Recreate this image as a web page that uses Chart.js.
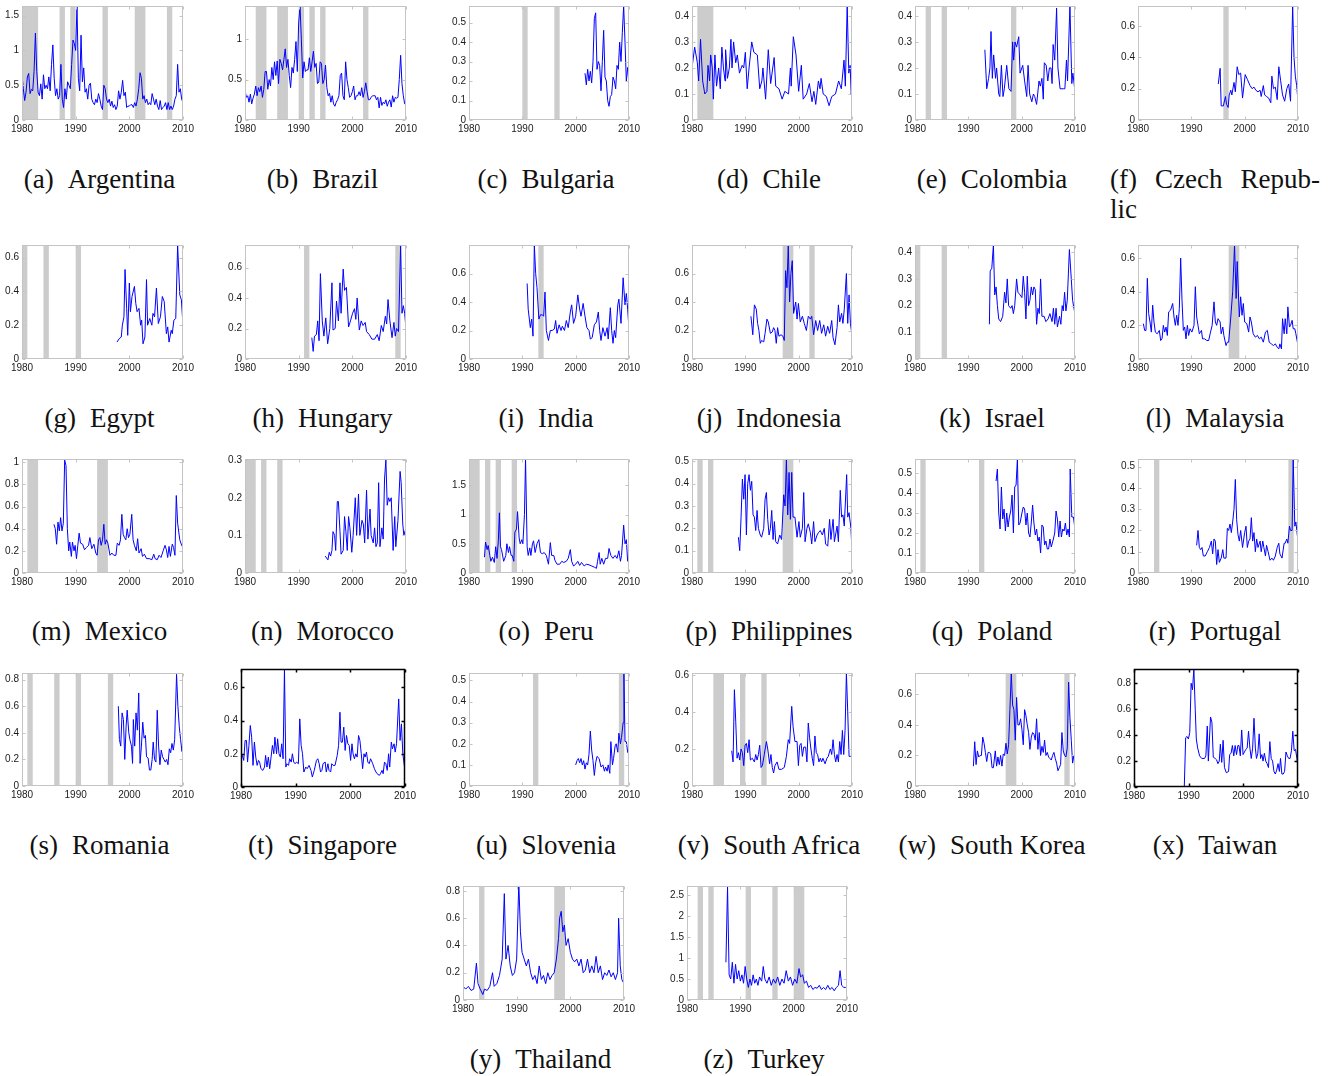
<!DOCTYPE html>
<html><head><meta charset="utf-8">
<script src="https://cdn.jsdelivr.net/npm/chart.js@4.4.1/dist/chart.umd.min.js"></script>
<style>
html,body{margin:0;padding:0;background:#fff;}
body{width:1336px;height:1076px;position:relative;overflow:hidden;}
canvas{position:absolute;}
.cap{position:absolute;font-family:'Liberation Serif','Times New Roman',serif;font-size:27px;line-height:30px;color:#111;text-align:center;white-space:nowrap;width:210px;}
.cap .g{margin-left:14px;}
.cap .row{display:flex;justify-content:space-between;}
.cap .l2{text-align:left;}
</style></head><body>
<script>
// ---------------- DATA ----------------
const xTicks = [1980, 1990, 2000, 2010];
const letters = 'abcdefghijklmnopqrstuvwxyz'.split('');
const countries = ['Argentina','Brazil','Bulgaria','Chile','Colombia','Czech Republic','Egypt','Hungary','India','Indonesia','Israel','Malaysia','Mexico','Morocco','Peru','Philippines','Poland','Portugal','Romania','Singapore','Slovenia','South Africa','South Korea','Taiwan','Thailand','Turkey'];

// quarterly values 1980..2010
const argentina = [0.65,0.45,0.28,0.4, 0.62,0.67,0.38,0.44, 0.42,0.7,1.25,0.7, 0.4,0.35,0.52,0.3, 0.65,0.45,0.5,0.45, 0.62,0.42,0.8,1.08, 0.6,0.35,0.45,0.3, 0.35,0.8,0.3,0.18, 0.45,0.3,0.55,0.5, 0.45,0.8,1.15,1.1, 1.0,1.64,0.6,0.42, 1.22,0.55,0.75,0.4, 0.45,0.3,0.5,0.53, 0.3,0.25,0.22,0.3, 0.25,0.38,0.3,0.2, 0.15,0.5,0.45,0.3, 0.25,0.3,0.2,0.27, 0.18,0.22,0.15,0.2, 0.42,0.3,0.4,0.57, 0.35,0.4,0.18,0.2, 0.2,0.22,0.22,0.18, 0.25,0.2,0.3,0.45, 0.68,0.6,0.3,0.35, 0.25,0.3,0.22,0.25, 0.22,0.38,0.3,0.22, 0.3,0.2,0.15,0.28, 0.15,0.18,0.2,0.25, 0.15,0.25,0.15,0.2, 0.15,0.2,0.3,0.35, 0.8,0.4,0.45,0.3, 0.25];
const brazil = [0.37,0.28,0.3,0.22, 0.32,0.2,0.27,0.32, 0.42,0.3,0.4,0.35, 0.42,0.28,0.38,0.6, 0.6,0.38,0.5,0.42, 0.65,0.5,0.72,0.55, 0.73,0.45,0.75,0.7, 0.62,0.75,0.88,0.65, 0.75,0.55,0.4,0.65, 0.58,0.75,0.97,0.6, 1.2,1.41,1.0,0.52, 0.72,0.6,0.62,0.62, 0.77,0.6,0.72,0.85, 0.65,0.7,0.45,0.47, 0.72,0.7,0.45,0.5, 0.68,0.4,0.3,0.33, 0.22,0.3,0.2,0.17, 0.22,0.25,0.3,0.55, 0.58,0.3,0.25,0.72, 0.5,0.4,0.28,0.3, 0.35,0.42,0.25,0.3, 0.3,0.35,0.3,0.4, 0.28,0.35,0.46,0.35, 0.25,0.25,0.28,0.3, 0.3,0.3,0.25,0.28, 0.15,0.28,0.18,0.22, 0.2,0.25,0.17,0.22, 0.25,0.16,0.3,0.22, 0.28,0.27,0.28,0.5, 0.8,0.45,0.3,0.2, 0.2];

// [year, value] pairs
const bulgaria = [[2001.75,0.24],[2002,0.18],[2002.25,0.26],[2002.5,0.2],[2002.75,0.25],[2003,0.19],[2003.25,0.3],[2003.5,0.52],[2003.75,0.55],[2004,0.26],[2004.25,0.3],[2004.5,0.28],[2004.75,0.15],[2005,0.3],[2005.25,0.46],[2005.5,0.22],[2005.75,0.2],[2006,0.1],[2006.25,0.07],[2006.5,0.12],[2006.75,0.13],[2007,0.22],[2007.25,0.2],[2007.5,0.16],[2007.75,0.28],[2008,0.26],[2008.25,0.4],[2008.5,0.3],[2008.75,0.45],[2009,0.585],[2009.25,0.4],[2009.5,0.2],[2009.75,0.27],[2010,0.19]];
const chile = [[1980,0.2],[1980.5,0.28],[1981,0.22],[1981.25,0.15],[1981.6,0.31],[1982,0.15],[1982.4,0.1],[1982.8,0.11],[1983,0.21],[1983.3,0.15],[1983.5,0.25],[1983.8,0.2],[1984,0.08],[1984.3,0.25],[1984.6,0.13],[1985,0.2],[1985.3,0.12],[1985.6,0.28],[1985.9,0.2],[1986.2,0.15],[1986.3,0.27],[1986.65,0.16],[1987,0.2],[1987.3,0.31],[1987.5,0.2],[1987.8,0.3],[1988.2,0.22],[1988.5,0.25],[1988.9,0.18],[1989.4,0.21],[1989.7,0.2],[1990,0.26],[1990.35,0.12],[1990.7,0.2],[1991.2,0.3],[1991.6,0.26],[1992.25,0.25],[1992.7,0.12],[1993.1,0.15],[1993.3,0.2],[1993.8,0.08],[1994.3,0.27],[1994.75,0.14],[1995.4,0.24],[1995.7,0.13],[1996.3,0.12],[1996.9,0.08],[1997.4,0.11],[1998.1,0.1],[1998.45,0.2],[1998.6,0.13],[1999,0.32],[1999.5,0.25],[2000,0.11],[2000.5,0.21],[2000.85,0.08],[2001.5,0.1],[2002,0.14],[2002.5,0.07],[2002.85,0.11],[2003.2,0.06],[2003.7,0.15],[2004,0.12],[2004.2,0.16],[2004.6,0.1],[2005.2,0.09],[2005.7,0.055],[2006.2,0.09],[2006.9,0.1],[2007.5,0.15],[2008,0.12],[2008.5,0.23],[2008.75,0.13],[2009.1,0.44],[2009.4,0.18],[2009.65,0.21],[2009.85,0.1],[2010,0.12]];
const colombia = [[1993.1,0.27],[1993.45,0.12],[1993.8,0.16],[1994.05,0.2],[1994.25,0.34],[1994.5,0.16],[1994.75,0.25],[1995.1,0.16],[1995.3,0.2],[1995.7,0.1],[1995.9,0.09],[1996.2,0.21],[1996.5,0.09],[1996.75,0.12],[1997.2,0.21],[1997.6,0.12],[1998,0.11],[1998.3,0.3],[1998.5,0.23],[1998.75,0.3],[1999.05,0.28],[1999.45,0.32],[1999.7,0.18],[2000.2,0.21],[2000.55,0.15],[2000.95,0.09],[2001.2,0.21],[2001.5,0.1],[2001.9,0.07],[2002.2,0.1],[2002.45,0.09],[2002.8,0.06],[2003.25,0.15],[2003.5,0.13],[2003.8,0.16],[2004.05,0.08],[2004.25,0.22],[2004.6,0.21],[2004.9,0.15],[2005.2,0.2],[2005.5,0.2],[2005.7,0.14],[2005.9,0.29],[2006.2,0.23],[2006.55,0.43],[2006.8,0.2],[2007.2,0.12],[2007.8,0.12],[2008.1,0.12],[2008.4,0.23],[2008.6,0.15],[2009.05,0.44],[2009.4,0.14],[2009.6,0.18],[2010,0.11]];
const czech = [[1995.05,0.23],[1995.4,0.33],[1995.6,0.09],[1996,0.09],[1996.4,0.15],[1996.6,0.1],[1996.9,0.08],[1997.1,0.16],[1997.4,0.19],[1997.6,0.16],[1998,0.24],[1998.25,0.18],[1998.6,0.34],[1998.9,0.29],[1999.25,0.3],[1999.6,0.14],[2000.1,0.29],[2000.5,0.26],[2001,0.22],[2001.4,0.2],[2001.75,0.21],[2002.1,0.19],[2002.5,0.18],[2002.9,0.19],[2003.1,0.15],[2003.5,0.22],[2003.75,0.16],[2004.1,0.15],[2004.5,0.14],[2004.9,0.11],[2005.1,0.28],[2005.4,0.2],[2005.75,0.21],[2006.1,0.13],[2006.4,0.34],[2006.75,0.25],[2007.1,0.16],[2007.5,0.12],[2007.9,0.2],[2008.25,0.23],[2008.6,0.12],[2009,0.728],[2009.25,0.4],[2009.5,0.28],[2009.75,0.22],[2010,0.12]];
const egypt = [[1997.7,0.1],[1998.1,0.12],[1998.5,0.13],[1998.7,0.2],[1999,0.25],[1999.2,0.53],[1999.5,0.3],[1999.7,0.14],[2000,0.45],[2000.2,0.28],[2000.5,0.37],[2000.95,0.43],[2001.2,0.33],[2001.45,0.28],[2001.8,0.3],[2002.1,0.2],[2002.3,0.23],[2002.55,0.09],[2002.9,0.13],[2003.2,0.47],[2003.4,0.2],[2003.8,0.24],[2004.2,0.2],[2004.4,0.27],[2004.7,0.25],[2005.05,0.42],[2005.4,0.21],[2005.8,0.25],[2006.15,0.37],[2006.5,0.34],[2006.9,0.15],[2007.15,0.19],[2007.4,0.1],[2007.8,0.17],[2008,0.15],[2008.3,0.23],[2008.65,0.24],[2009,0.675],[2009.4,0.38],[2009.7,0.35],[2010,0.2]];
const hungary = [[1992.45,0.14],[1992.7,0.05],[1992.95,0.15],[1993.3,0.16],[1993.55,0.25],[1993.8,0.12],[1994.05,0.56],[1994.4,0.25],[1994.7,0.15],[1995.05,0.27],[1995.4,0.1],[1995.8,0.2],[1996.2,0.5],[1996.4,0.19],[1996.8,0.2],[1997.05,0.38],[1997.4,0.25],[1997.7,0.5],[1997.9,0.3],[1998.3,0.59],[1998.55,0.45],[1998.9,0.47],[1999.3,0.21],[1999.65,0.25],[2000.05,0.3],[2000.4,0.33],[2000.65,0.26],[2000.9,0.4],[2001.3,0.19],[2001.65,0.25],[2002,0.22],[2002.4,0.24],[2002.65,0.18],[2003.15,0.16],[2003.65,0.13],[2004.15,0.13],[2004.65,0.16],[2005,0.12],[2005.4,0.22],[2005.75,0.18],[2006.15,0.28],[2006.4,0.23],[2006.65,0.39],[2007,0.25],[2007.4,0.14],[2007.75,0.24],[2008,0.15],[2008.25,0.2],[2008.6,0.18],[2009,0.748],[2009.25,0.3],[2009.5,0.35],[2009.75,0.3],[2010,0.2]];
const india = [[1990.9,0.53],[1991.1,0.35],[1991.5,0.22],[1991.75,0.28],[1992,0.16],[1992.25,0.8],[1992.5,0.6],[1992.75,0.5],[1993.1,0.28],[1993.4,0.31],[1993.75,0.31],[1994,0.3],[1994.25,0.47],[1994.5,0.2],[1994.9,0.13],[1995.25,0.2],[1995.6,0.2],[1996,0.21],[1996.25,0.27],[1996.5,0.18],[1996.9,0.24],[1997.25,0.2],[1997.5,0.23],[1997.9,0.2],[1998.25,0.27],[1998.6,0.22],[1999,0.33],[1999.25,0.38],[1999.6,0.25],[2000,0.3],[2000.4,0.45],[2000.75,0.35],[2001,0.3],[2001.4,0.39],[2001.75,0.3],[2002.1,0.22],[2002.5,0.2],[2002.75,0.14],[2003.1,0.15],[2003.5,0.24],[2003.9,0.26],[2004.25,0.33],[2004.5,0.2],[2004.75,0.13],[2005.1,0.22],[2005.5,0.16],[2005.9,0.22],[2006.1,0.14],[2006.5,0.36],[2006.75,0.2],[2007,0.11],[2007.25,0.2],[2007.5,0.15],[2007.9,0.38],[2008.1,0.42],[2008.5,0.25],[2008.9,0.57],[2009.25,0.38],[2009.5,0.46],[2009.75,0.35],[2010,0.21]];
const indonesia = [[1991.05,0.3],[1991.4,0.17],[1991.7,0.38],[1992.05,0.35],[1992.3,0.25],[1992.55,0.2],[1992.8,0.11],[1993.05,0.13],[1993.45,0.12],[1993.7,0.18],[1994.05,0.28],[1994.3,0.26],[1994.7,0.18],[1995.05,0.19],[1995.3,0.22],[1995.55,0.2],[1995.8,0.11],[1996.05,0.22],[1996.3,0.16],[1996.7,0.17],[1997.05,0.16],[1997.3,0.13],[1997.55,0.62],[1997.8,0.5],[1998.05,0.8],[1998.3,0.4],[1998.55,0.6],[1998.8,0.69],[1999.05,0.32],[1999.45,0.4],[1999.7,0.28],[1999.95,0.39],[2000.3,0.26],[2000.7,0.3],[2001.05,0.25],[2001.45,0.2],[2001.8,0.3],[2002.2,0.28],[2002.45,0.3],[2002.8,0.17],[2003.2,0.27],[2003.55,0.2],[2003.95,0.27],[2004.3,0.18],[2004.7,0.24],[2005.05,0.16],[2005.45,0.23],[2005.8,0.18],[2006.2,0.27],[2006.45,0.15],[2006.8,0.1],[2007.2,0.22],[2007.45,0.38],[2007.7,0.26],[2008.05,0.32],[2008.3,0.25],[2008.55,0.35],[2008.95,0.6],[2009.2,0.25],[2009.45,0.45],[2009.7,0.25],[2010,0.17]];
const israel = [[1993.95,0.13],[1994.1,0.33],[1994.4,0.34],[1994.7,0.427],[1994.95,0.24],[1995.2,0.27],[1995.45,0.2],[1995.7,0.15],[1996.05,0.14],[1996.45,0.16],[1996.8,0.25],[1997.05,0.21],[1997.3,0.3],[1997.55,0.2],[1997.95,0.19],[1998.2,0.2],[1998.45,0.17],[1998.7,0.2],[1999.05,0.3],[1999.3,0.25],[1999.7,0.24],[2000.05,0.23],[2000.3,0.31],[2000.55,0.25],[2000.8,0.15],[2001.05,0.31],[2001.3,0.2],[2001.55,0.22],[2001.8,0.27],[2002.05,0.24],[2002.3,0.27],[2002.55,0.26],[2002.8,0.13],[2003.05,0.19],[2003.3,0.17],[2003.55,0.3],[2003.8,0.16],[2004.2,0.16],[2004.55,0.14],[2004.95,0.15],[2005.3,0.17],[2005.7,0.14],[2005.95,0.19],[2006.2,0.13],[2006.45,0.19],[2006.7,0.12],[2007.1,0.16],[2007.35,0.13],[2007.6,0.2],[2007.8,0.18],[2008.05,0.25],[2008.3,0.18],[2008.55,0.22],[2008.95,0.41],[2009.3,0.3],[2009.55,0.22],[2009.8,0.19],[2010,0.17]];
const malaysia = [[1981,0.21],[1981.25,0.17],[1981.5,0.17],[1981.75,0.48],[1982,0.27],[1982.25,0.22],[1982.5,0.16],[1982.75,0.32],[1983,0.22],[1983.25,0.16],[1983.6,0.15],[1984,0.17],[1984.25,0.11],[1984.5,0.12],[1984.75,0.2],[1985,0.16],[1985.25,0.19],[1985.5,0.14],[1985.75,0.28],[1986.1,0.29],[1986.5,0.33],[1986.75,0.25],[1987,0.2],[1987.25,0.26],[1987.5,0.2],[1987.75,0.3],[1988,0.6],[1988.25,0.35],[1988.5,0.17],[1988.75,0.19],[1989,0.12],[1989.25,0.2],[1989.5,0.14],[1989.75,0.18],[1990.1,0.16],[1990.5,0.2],[1990.75,0.43],[1991,0.25],[1991.25,0.2],[1991.5,0.15],[1991.9,0.17],[1992.1,0.12],[1992.5,0.12],[1992.9,0.11],[1993.25,0.11],[1993.6,0.16],[1993.9,0.2],[1994.25,0.34],[1994.5,0.22],[1994.75,0.2],[1995,0.24],[1995.4,0.22],[1995.6,0.15],[1995.9,0.19],[1996.1,0.14],[1996.5,0.08],[1996.75,0.1],[1997,0.1],[1997.4,0.25],[1997.75,0.4],[1998.1,0.678],[1998.4,0.36],[1998.6,0.58],[1999,0.25],[1999.25,0.37],[1999.5,0.26],[1999.75,0.33],[2000,0.22],[2000.4,0.21],[2000.75,0.16],[2001,0.25],[2001.25,0.22],[2001.6,0.15],[2002,0.13],[2002.4,0.14],[2002.75,0.12],[2003.1,0.13],[2003.5,0.1],[2003.9,0.16],[2004.25,0.17],[2004.6,0.1],[2005,0.09],[2005.4,0.08],[2005.75,0.09],[2006.1,0.07],[2006.4,0.06],[2006.6,0.09],[2006.9,0.06],[2007.1,0.24],[2007.4,0.15],[2007.6,0.24],[2007.9,0.15],[2008.1,0.31],[2008.4,0.19],[2008.6,0.2],[2008.9,0.23],[2009.1,0.18],[2009.4,0.18],[2009.6,0.15],[2010,0.08]];
const mexico = [[1985.95,0.44],[1986.2,0.4],[1986.45,0.26],[1986.7,0.46],[1986.95,0.38],[1987.2,0.5],[1987.45,0.38],[1987.7,0.45],[1987.95,1.02],[1988.2,0.97],[1988.45,0.4],[1988.7,0.2],[1988.9,0.28],[1989.2,0.15],[1989.4,0.28],[1989.7,0.2],[1989.9,0.25],[1990.15,0.13],[1990.4,0.25],[1990.65,0.36],[1990.9,0.27],[1991.3,0.26],[1991.65,0.21],[1992,0.23],[1992.4,0.25],[1992.65,0.32],[1993,0.22],[1993.4,0.26],[1993.75,0.18],[1994,0.16],[1994.25,0.3],[1994.5,0.32],[1994.75,0.25],[1995,0.3],[1995.25,0.44],[1995.5,0.26],[1995.75,0.3],[1996,0.27],[1996.4,0.16],[1996.75,0.18],[1997.1,0.16],[1997.5,0.16],[1997.75,0.27],[1998.1,0.25],[1998.35,0.3],[1998.6,0.53],[1998.85,0.35],[1999.1,0.32],[1999.35,0.3],[1999.6,0.4],[1999.85,0.32],[2000.1,0.35],[2000.45,0.53],[2000.7,0.3],[2000.95,0.25],[2001.3,0.2],[2001.55,0.31],[2001.8,0.18],[2002.2,0.22],[2002.45,0.15],[2002.8,0.17],[2003.2,0.13],[2003.7,0.13],[2004.2,0.12],[2004.55,0.17],[2004.8,0.13],[2005.2,0.12],[2005.55,0.16],[2005.9,0.14],[2006.3,0.2],[2006.65,0.25],[2006.9,0.21],[2007.15,0.14],[2007.4,0.24],[2007.65,0.15],[2008,0.26],[2008.25,0.23],[2008.5,0.16],[2008.75,0.7],[2009,0.45],[2009.4,0.3],[2009.75,0.25],[2010,0.23]];
const morocco = [[1994.95,0.045],[1995.2,0.04],[1995.45,0.035],[1995.7,0.055],[1995.95,0.045],[1996.2,0.06],[1996.4,0.11],[1996.7,0.1],[1996.9,0.06],[1997.2,0.19],[1997.4,0.19],[1997.7,0.11],[1997.9,0.05],[1998.3,0.06],[1998.55,0.15],[1998.8,0.11],[1999.05,0.06],[1999.3,0.15],[1999.55,0.12],[1999.9,0.055],[2000.15,0.1],[2000.55,0.2],[2000.8,0.1],[2001.15,0.21],[2001.4,0.1],[2001.8,0.14],[2002.05,0.13],[2002.3,0.08],[2002.65,0.22],[2002.9,0.09],[2003.3,0.17],[2003.5,0.1],[2003.9,0.08],[2004.15,0.12],[2004.4,0.07],[2004.65,0.08],[2004.9,0.24],[2005.15,0.07],[2005.5,0.12],[2005.75,0.09],[2006,0.25],[2006.25,0.3],[2006.5,0.18],[2006.75,0.2],[2007,0.19],[2007.25,0.2],[2007.6,0.06],[2007.9,0.15],[2008.1,0.07],[2008.5,0.14],[2008.9,0.27],[2009.1,0.24],[2009.4,0.13],[2009.6,0.1],[2010,0.12]];
const peru = [[1982.9,0.27],[1983.1,0.53],[1983.4,0.4],[1983.6,0.47],[1983.9,0.3],[1984.1,0.2],[1984.4,0.27],[1984.75,0.18],[1985,0.45],[1985.25,0.25],[1985.5,0.55],[1985.7,1.03],[1985.9,0.45],[1986.1,0.4],[1986.5,0.2],[1986.9,0.3],[1987.1,0.5],[1987.4,0.35],[1987.6,0.45],[1987.9,0.3],[1988.1,0.3],[1988.4,0.2],[1988.6,0.7],[1988.9,0.75],[1989.1,1.05],[1989.4,0.6],[1989.6,0.5],[1989.9,0.57],[1990.1,0.5],[1990.4,1.0],[1990.6,1.95],[1990.9,0.45],[1991.1,0.3],[1991.4,0.43],[1991.6,0.3],[1991.9,0.5],[1992.1,0.55],[1992.4,0.35],[1992.75,0.5],[1993.1,0.57],[1993.4,0.35],[1993.75,0.33],[1994.1,0.35],[1994.5,0.3],[1994.9,0.15],[1995.25,0.52],[1995.5,0.3],[1995.9,0.3],[1996.1,0.22],[1996.5,0.15],[1997,0.15],[1997.4,0.2],[1997.75,0.18],[1998.25,0.2],[1998.6,0.25],[1999,0.4],[1999.25,0.2],[1999.6,0.12],[2000,0.15],[2000.4,0.2],[2000.75,0.13],[2001.1,0.18],[2001.6,0.12],[2002,0.15],[2002.5,0.14],[2003,0.12],[2003.5,0.1],[2003.9,0.08],[2004.1,0.2],[2004.4,0.35],[2004.6,0.15],[2004.9,0.25],[2005.25,0.15],[2005.6,0.25],[2006,0.25],[2006.25,0.42],[2006.6,0.3],[2007,0.25],[2007.4,0.3],[2007.75,0.25],[2008.1,0.38],[2008.4,0.2],[2008.6,0.3],[2009,0.82],[2009.25,0.5],[2009.5,0.57],[2009.75,0.2],[2010,0.18]];
const philippines = [[1988.7,0.16],[1988.95,0.1],[1989.2,0.25],[1989.45,0.42],[1989.7,0.33],[1989.95,0.44],[1990.2,0.17],[1990.45,0.4],[1990.7,0.44],[1990.95,0.37],[1991.2,0.41],[1991.45,0.26],[1991.7,0.25],[1991.95,0.19],[1992.2,0.28],[1992.45,0.2],[1992.8,0.17],[1993.05,0.16],[1993.45,0.2],[1993.7,0.33],[1993.95,0.36],[1994.2,0.24],[1994.45,0.17],[1994.7,0.2],[1994.95,0.28],[1995.2,0.15],[1995.45,0.23],[1995.7,0.14],[1996.05,0.13],[1996.45,0.17],[1996.8,0.15],[1997.2,0.35],[1997.45,0.3],[1997.7,0.51],[1997.95,0.26],[1998.2,0.45],[1998.45,0.24],[1998.7,0.45],[1998.95,0.25],[1999.3,0.25],[1999.7,0.16],[2000.05,0.23],[2000.3,0.16],[2000.7,0.2],[2000.95,0.36],[2001.2,0.14],[2001.55,0.2],[2001.8,0.22],[2002.2,0.18],[2002.45,0.13],[2002.8,0.23],[2003.05,0.14],[2003.45,0.17],[2003.7,0.18],[2004.05,0.19],[2004.45,0.17],[2004.8,0.2],[2005.05,0.13],[2005.45,0.12],[2005.8,0.24],[2006.05,0.15],[2006.45,0.24],[2006.7,0.14],[2007.2,0.21],[2007.45,0.14],[2007.8,0.37],[2008.05,0.25],[2008.3,0.26],[2008.55,0.21],[2009,0.44],[2009.2,0.25],[2009.45,0.27],[2009.8,0.2],[2010,0.1]];
const poland = [[1995.2,0.46],[1995.45,0.52],[1995.7,0.3],[1995.95,0.22],[1996.2,0.43],[1996.45,0.27],[1996.7,0.32],[1996.95,0.21],[1997.2,0.3],[1997.45,0.23],[1997.7,0.28],[1997.95,0.31],[1998.2,0.39],[1998.45,0.2],[1998.7,0.43],[1998.95,0.44],[1999.2,0.57],[1999.45,0.24],[1999.7,0.25],[2000.05,0.3],[2000.3,0.33],[2000.55,0.32],[2000.8,0.24],[2001.05,0.3],[2001.3,0.2],[2001.55,0.18],[2001.8,0.25],[2002.05,0.34],[2002.3,0.25],[2002.55,0.19],[2002.8,0.22],[2003.05,0.16],[2003.3,0.18],[2003.55,0.1],[2003.8,0.24],[2004.05,0.23],[2004.3,0.14],[2004.55,0.16],[2004.8,0.12],[2005.05,0.12],[2005.3,0.17],[2005.55,0.13],[2005.95,0.17],[2006.2,0.2],[2006.45,0.31],[2006.7,0.27],[2006.95,0.18],[2007.2,0.26],[2007.45,0.18],[2007.7,0.22],[2007.95,0.21],[2008.2,0.25],[2008.45,0.19],[2008.7,0.22],[2008.95,0.18],[2009.1,0.52],[2009.4,0.28],[2009.7,0.28],[2010,0.22]];
const portugal = [[1991,0.13],[1991.25,0.2],[1991.5,0.12],[1991.75,0.11],[1992,0.12],[1992.25,0.08],[1992.6,0.08],[1993,0.1],[1993.4,0.12],[1993.75,0.15],[1994,0.09],[1994.25,0.16],[1994.5,0.15],[1994.75,0.04],[1995,0.11],[1995.25,0.05],[1995.6,0.07],[1995.9,0.11],[1996.1,0.07],[1996.5,0.07],[1996.75,0.21],[1997,0.2],[1997.25,0.23],[1997.5,0.19],[1997.75,0.24],[1998,0.3],[1998.25,0.44],[1998.5,0.25],[1998.75,0.18],[1999,0.15],[1999.25,0.2],[1999.6,0.12],[2000,0.19],[2000.25,0.22],[2000.5,0.12],[2000.75,0.15],[2001,0.16],[2001.25,0.26],[2001.5,0.15],[2001.75,0.19],[2002,0.1],[2002.25,0.16],[2002.5,0.12],[2002.9,0.15],[2003.1,0.1],[2003.4,0.15],[2003.6,0.12],[2003.9,0.08],[2004.1,0.13],[2004.4,0.1],[2004.75,0.06],[2005.1,0.07],[2005.4,0.06],[2005.75,0.08],[2006.1,0.12],[2006.4,0.14],[2006.6,0.09],[2007,0.07],[2007.4,0.14],[2007.6,0.14],[2007.9,0.16],[2008.1,0.14],[2008.4,0.22],[2008.6,0.2],[2008.9,0.2],[2009.1,0.54],[2009.4,0.22],[2009.6,0.24],[2010,0.15]];
const romania = [[1997.95,0.6],[1998.15,0.35],[1998.4,0.3],[1998.65,0.55],[1998.9,0.5],[1999.15,0.2],[1999.4,0.45],[1999.6,0.57],[1999.9,0.4],[2000.1,0.35],[2000.4,0.3],[2000.6,0.17],[2000.75,0.5],[2001,0.3],[2001.25,0.55],[2001.5,0.42],[2001.75,0.7],[2002,0.17],[2002.25,0.3],[2002.5,0.48],[2002.75,0.36],[2003,0.38],[2003.2,0.22],[2003.5,0.21],[2003.75,0.12],[2004,0.12],[2004.25,0.2],[2004.45,0.33],[2004.7,0.2],[2004.95,0.18],[2005.2,0.57],[2005.45,0.3],[2005.7,0.16],[2005.95,0.27],[2006.2,0.22],[2006.45,0.2],[2006.7,0.18],[2006.95,0.2],[2007.2,0.16],[2007.45,0.28],[2007.7,0.25],[2007.95,0.32],[2008.2,0.27],[2008.45,0.35],[2008.8,0.84],[2009.05,0.6],[2009.3,0.45],[2009.55,0.35],[2009.8,0.26],[2010,0.32]];
const singapore = [[1980,0.2],[1980.25,0.19],[1980.5,0.16],[1980.75,0.28],[1981,0.28],[1981.2,0.15],[1981.45,0.25],[1981.7,0.37],[1981.95,0.3],[1982.2,0.13],[1982.45,0.27],[1982.7,0.18],[1982.95,0.13],[1983.2,0.16],[1983.4,0.15],[1983.65,0.11],[1984,0.1],[1984.3,0.12],[1984.5,0.19],[1984.75,0.12],[1985,0.18],[1985.25,0.11],[1985.5,0.18],[1985.75,0.25],[1986,0.2],[1986.2,0.3],[1986.5,0.2],[1986.7,0.29],[1986.95,0.2],[1987.2,0.18],[1987.45,0.26],[1987.7,0.17],[1987.95,0.71],[1988.2,0.12],[1988.4,0.14],[1988.7,0.13],[1988.9,0.17],[1989.2,0.15],[1989.4,0.2],[1989.65,0.15],[1989.9,0.14],[1990.15,0.15],[1990.5,0.14],[1990.75,0.41],[1991,0.25],[1991.25,0.2],[1991.5,0.09],[1991.85,0.12],[1992.1,0.11],[1992.45,0.13],[1992.8,0.1],[1993.05,0.06],[1993.4,0.1],[1993.8,0.16],[1994.05,0.17],[1994.3,0.14],[1994.55,0.09],[1994.8,0.1],[1995,0.14],[1995.4,0.15],[1995.6,0.09],[1995.9,0.14],[1996.1,0.1],[1996.4,0.09],[1996.6,0.14],[1996.85,0.13],[1997.2,0.13],[1997.6,0.19],[1997.85,0.25],[1998.1,0.45],[1998.3,0.27],[1998.55,0.27],[1998.8,0.36],[1999.05,0.22],[1999.3,0.31],[1999.55,0.26],[1999.8,0.25],[2000.05,0.16],[2000.3,0.26],[2000.5,0.2],[2000.75,0.17],[2001,0.2],[2001.25,0.18],[2001.5,0.31],[2001.75,0.28],[2002,0.2],[2002.25,0.11],[2002.5,0.2],[2002.7,0.18],[2002.95,0.21],[2003.2,0.15],[2003.45,0.14],[2003.7,0.17],[2004.1,0.14],[2004.4,0.11],[2004.7,0.09],[2004.9,0.08],[2005.3,0.07],[2005.5,0.08],[2005.8,0.1],[2006,0.08],[2006.25,0.15],[2006.5,0.14],[2006.75,0.1],[2007,0.2],[2007.2,0.12],[2007.5,0.27],[2007.7,0.23],[2008,0.26],[2008.2,0.21],[2008.45,0.26],[2008.85,0.53],[2009.1,0.28],[2009.35,0.38],[2009.6,0.2],[2009.8,0.15],[2010,0.1]];
const slovenia = [[2000,0.1],[2000.25,0.12],[2000.5,0.13],[2000.75,0.11],[2001,0.13],[2001.25,0.1],[2001.5,0.12],[2001.75,0.08],[2002,0.11],[2002.25,0.1],[2002.5,0.15],[2002.75,0.26],[2003,0.17],[2003.25,0.12],[2003.5,0.05],[2003.75,0.11],[2004,0.14],[2004.4,0.13],[2004.75,0.09],[2005.1,0.1],[2005.4,0.07],[2005.6,0.09],[2005.9,0.07],[2006.1,0.1],[2006.4,0.06],[2006.6,0.21],[2006.9,0.1],[2007.1,0.13],[2007.4,0.19],[2007.6,0.2],[2007.9,0.16],[2008.1,0.25],[2008.4,0.2],[2008.6,0.23],[2008.9,0.3],[2009.05,0.535],[2009.25,0.21],[2009.5,0.21],[2009.75,0.16],[2010,0.15]];
const southAfrica = [[1987.45,0.19],[1987.7,0.13],[1987.95,0.52],[1988.2,0.35],[1988.45,0.15],[1988.7,0.18],[1988.95,0.14],[1989.2,0.2],[1989.45,0.18],[1989.7,0.11],[1989.95,0.22],[1990.2,0.23],[1990.45,0.18],[1990.7,0.25],[1990.95,0.14],[1991.3,0.15],[1991.7,0.13],[1991.95,0.17],[1992.2,0.14],[1992.45,0.17],[1992.7,0.22],[1992.95,0.1],[1993.2,0.11],[1993.55,0.17],[1993.95,0.24],[1994.2,0.2],[1994.55,0.12],[1994.8,0.17],[1995.05,0.1],[1995.3,0.07],[1995.55,0.11],[1995.95,0.13],[1996.3,0.09],[1996.8,0.09],[1997.3,0.1],[1997.7,0.16],[1998.05,0.25],[1998.3,0.23],[1998.7,0.43],[1998.95,0.32],[1999.3,0.24],[1999.7,0.24],[1999.95,0.11],[2000.2,0.22],[2000.45,0.23],[2000.7,0.16],[2000.95,0.21],[2001.3,0.21],[2001.55,0.13],[2001.8,0.34],[2002.05,0.26],[2002.3,0.2],[2002.55,0.15],[2002.8,0.11],[2003.05,0.27],[2003.3,0.18],[2003.55,0.17],[2003.8,0.13],[2004.05,0.15],[2004.3,0.13],[2004.55,0.15],[2004.95,0.12],[2005.3,0.15],[2005.55,0.16],[2005.95,0.2],[2006.2,0.17],[2006.45,0.25],[2006.7,0.17],[2006.95,0.13],[2007.2,0.17],[2007.45,0.13],[2007.7,0.24],[2007.95,0.17],[2008.2,0.3],[2008.45,0.17],[2008.7,0.3],[2008.95,0.61],[2009.2,0.4],[2009.45,0.16],[2009.7,0.16],[2010,0.16]];
const southKorea = [[1990.95,0.13],[1991.2,0.29],[1991.45,0.14],[1991.7,0.23],[1991.95,0.19],[1992.2,0.2],[1992.45,0.2],[1992.7,0.32],[1992.95,0.28],[1993.2,0.22],[1993.45,0.16],[1993.7,0.22],[1993.95,0.22],[1994.2,0.21],[1994.45,0.12],[1994.7,0.12],[1995.05,0.23],[1995.3,0.13],[1995.55,0.19],[1995.8,0.14],[1996.05,0.2],[1996.3,0.13],[1996.55,0.21],[1996.8,0.2],[1997.05,0.28],[1997.3,0.21],[1997.55,0.27],[1997.8,0.5],[1998.05,0.74],[1998.3,0.53],[1998.55,0.5],[1998.8,0.3],[1999.05,0.58],[1999.3,0.4],[1999.55,0.4],[1999.8,0.44],[2000.05,0.37],[2000.3,0.27],[2000.55,0.5],[2000.8,0.46],[2001.05,0.4],[2001.3,0.35],[2001.55,0.24],[2001.8,0.32],[2002.05,0.35],[2002.3,0.34],[2002.55,0.3],[2002.8,0.44],[2003.05,0.24],[2003.3,0.35],[2003.55,0.2],[2003.8,0.26],[2004.05,0.22],[2004.3,0.3],[2004.55,0.2],[2004.8,0.22],[2005.05,0.19],[2005.3,0.18],[2005.55,0.17],[2005.8,0.2],[2006.05,0.22],[2006.3,0.18],[2006.55,0.15],[2006.8,0.1],[2007.05,0.12],[2007.3,0.14],[2007.55,0.35],[2007.8,0.23],[2008.05,0.2],[2008.3,0.19],[2008.55,0.25],[2008.8,0.68],[2009.05,0.45],[2009.3,0.3],[2009.55,0.15],[2009.8,0.2],[2010,0.15]];
const taiwan = [[1989.2,0],[1989.45,0.38],[1989.7,0.39],[1989.95,0.37],[1990.2,0.42],[1990.45,0.8],[1990.7,0.75],[1990.95,0.91],[1991.2,0.6],[1991.4,0.37],[1991.65,0.3],[1992,0.24],[1992.4,0.22],[1992.9,0.22],[1993.15,0.24],[1993.4,0.47],[1993.6,0.2],[1994,0.54],[1994.25,0.5],[1994.5,0.23],[1994.85,0.22],[1995.1,0.21],[1995.35,0.18],[1995.6,0.2],[1995.8,0.33],[1996.05,0.19],[1996.3,0.36],[1996.55,0.15],[1996.9,0.11],[1997.3,0.12],[1997.5,0.25],[1997.75,0.26],[1998,0.32],[1998.25,0.24],[1998.5,0.32],[1998.75,0.25],[1999,0.32],[1999.2,0.32],[1999.45,0.24],[1999.7,0.44],[1999.95,0.25],[2000.2,0.27],[2000.45,0.29],[2000.7,0.3],[2000.95,0.43],[2001.2,0.3],[2001.45,0.22],[2001.7,0.3],[2001.95,0.53],[2002.2,0.3],[2002.4,0.22],[2002.65,0.26],[2002.9,0.41],[2003.15,0.22],[2003.4,0.25],[2003.6,0.2],[2003.85,0.26],[2004.1,0.2],[2004.35,0.18],[2004.6,0.15],[2004.85,0.35],[2005.1,0.22],[2005.35,0.2],[2005.6,0.12],[2005.85,0.1],[2006.1,0.13],[2006.35,0.18],[2006.6,0.12],[2006.8,0.22],[2007.05,0.1],[2007.3,0.1],[2007.55,0.12],[2007.8,0.27],[2008.05,0.24],[2008.3,0.22],[2008.55,0.22],[2008.8,0.28],[2009.05,0.43],[2009.3,0.28],[2009.55,0.29],[2009.8,0.22],[2010,0.15]];
const thailand = [[1980,0.1],[1980.5,0.08],[1981,0.1],[1981.5,0.07],[1982,0.08],[1982.5,0.27],[1982.8,0.12],[1983.2,0.08],[1983.7,0.04],[1984,0.08],[1984.5,0.07],[1985,0.1],[1985.5,0.2],[1985.8,0.1],[1986.3,0.12],[1986.8,0.18],[1987.3,0.3],[1987.7,0.78],[1988,0.3],[1988.4,0.4],[1988.8,0.25],[1989.2,0.18],[1989.6,0.2],[1990,0.3],[1990.4,0.86],[1990.7,0.5],[1991,0.35],[1991.4,0.3],[1991.8,0.25],[1992.2,0.3],[1992.6,0.2],[1993,0.15],[1993.4,0.18],[1993.8,0.12],[1994.2,0.25],[1994.6,0.15],[1995,0.18],[1995.4,0.12],[1995.8,0.2],[1996.2,0.15],[1996.6,0.18],[1997,0.2],[1997.4,0.3],[1997.8,0.45],[1998,0.6],[1998.3,0.65],[1998.6,0.5],[1998.9,0.55],[1999.2,0.4],[1999.6,0.45],[2000,0.35],[2000.4,0.3],[2000.8,0.28],[2001.2,0.3],[2001.6,0.25],[2002,0.3],[2002.4,0.2],[2002.8,0.22],[2003.2,0.3],[2003.6,0.2],[2004,0.25],[2004.4,0.2],[2004.8,0.32],[2005.2,0.2],[2005.6,0.25],[2006,0.15],[2006.4,0.2],[2006.8,0.18],[2007.2,0.22],[2007.6,0.17],[2008,0.2],[2008.4,0.15],[2008.8,0.2],[2009,0.6],[2009.3,0.25],[2009.6,0.15],[2010,0.12]];
const turkey = [[1987.3,0.9],[1987.6,2.7],[1987.9,0.6],[1988.2,0.5],[1988.5,0.9],[1988.8,0.4],[1989.1,0.85],[1989.4,0.5],[1989.7,0.7],[1990,0.45],[1990.3,0.6],[1990.6,0.4],[1990.9,0.8],[1991.2,0.5],[1991.5,0.3],[1991.8,0.5],[1992.1,0.35],[1992.4,0.6],[1992.7,0.4],[1993,0.5],[1993.3,0.35],[1993.6,0.55],[1994,0.45],[1994.3,0.8],[1994.6,0.5],[1995,0.4],[1995.4,0.55],[1995.8,0.35],[1996.2,0.5],[1996.6,0.4],[1997,0.55],[1997.4,0.35],[1997.8,0.5],[1998.2,0.4],[1998.6,0.7],[1999,0.45],[1999.4,0.55],[1999.8,0.35],[2000.2,0.5],[2000.6,0.4],[2001,0.75],[2001.3,0.55],[2001.7,0.6],[2002,0.4],[2002.4,0.45],[2002.8,0.3],[2003.2,0.35],[2003.6,0.25],[2004,0.3],[2004.4,0.28],[2004.8,0.35],[2005.2,0.25],[2005.6,0.3],[2006,0.25],[2006.4,0.35],[2006.8,0.25],[2007.2,0.3],[2007.6,0.22],[2008,0.3],[2008.4,0.35],[2008.7,0.7],[2009,0.35],[2009.4,0.3],[2009.7,0.3],[2010,0.3]];

// recession / crisis bands [from, to] (years)
const bands = {
  a:[[1980,1983],[1987,1988],[1989,1990],[1995,1996],[2001,2003],[2007,2008]],
  b:[[1982,1984],[1986,1988],[1990,1991],[1992,1993],[1994,1995],[2002,2003]],
  c:[[1990,1991],[1996,1997]],
  d:[[1981,1984]],
  e:[[1982,1983],[1985,1986],[1998,1999]],
  f:[[1996,1997]],
  g:[[1980,1981],[1984,1985],[1990,1991]],
  h:[[1991,1992],[2008,2009]],
  i:[[1993,1994]],
  j:[[1997,1999],[2002,2003]],
  k:[[1980,1981],[1985,1986]],
  l:[[1997,1999]],
  m:[[1981,1983],[1994,1996]],
  n:[[1980,1982],[1983,1984],[1986,1987]],
  o:[[1980,1982],[1983,1984],[1985,1986],[1988,1989]],
  p:[[1981,1982],[1983,1984],[1997,1999]],
  q:[[1981,1982],[1992,1993]],
  r:[[1983,1984],[2008.2,2009.2]],
  s:[[1981,1982],[1986,1987],[1990,1991],[1996,1997]],
  t:[],
  u:[[1992,1993],[2008.1,2009.1]],
  v:[[1984,1986],[1989,1990],[1993,1994]],
  w:[[1997,1999],[2008,2009]],
  x:[],
  y:[[1983,1984],[1997,1999]],
  z:[[1982,1983],[1984,1985],[1991,1992],[1996,1997],[2000,2002]]
};

// y-axis tick labels and top of range for each panel
const yTicks = {
  a:[0,0.5,1,1.5], b:[0,0.5,1], c:[0,0.1,0.2,0.3,0.4,0.5], d:[0,0.1,0.2,0.3,0.4], e:[0,0.1,0.2,0.3,0.4], f:[0,0.2,0.4,0.6],
  g:[0,0.2,0.4,0.6], h:[0,0.2,0.4,0.6], i:[0,0.2,0.4,0.6], j:[0,0.2,0.4,0.6], k:[0,0.1,0.2,0.3,0.4], l:[0,0.2,0.4,0.6],
  m:[0,0.2,0.4,0.6,0.8,1], n:[0,0.1,0.2,0.3], o:[0,0.5,1,1.5], p:[0,0.1,0.2,0.3,0.4,0.5], q:[0,0.1,0.2,0.3,0.4,0.5], r:[0,0.1,0.2,0.3,0.4,0.5],
  s:[0,0.2,0.4,0.6,0.8], t:[0,0.2,0.4,0.6], u:[0,0.1,0.2,0.3,0.4,0.5], v:[0,0.2,0.4,0.6], w:[0,0.2,0.4,0.6], x:[0,0.2,0.4,0.6,0.8],
  y:[0,0.2,0.4,0.6,0.8], z:[0,0.5,1,1.5,2,2.5]
};
const yMax = {
  a:1.64, b:1.41, c:0.585, d:0.438, e:0.438, f:0.728, g:0.675, h:0.748, i:0.8, j:0.8, k:0.427, l:0.678,
  m:1.03, n:0.303, o:1.95, p:0.51, q:0.57, r:0.536, s:0.85, t:0.71, u:0.535, v:0.61, w:0.74, x:0.91, y:0.836, z:2.72
};

// ---------------- LAYOUT (positions / styles) ----------------
const colX = [[22,183],[245,406],[469,629],[692,852],[915,1075],[1138,1298]];
const rowY = [[5,120],[244,359],[458,573],[672,786]];
const capTop = [164,403,616,830,1044];
const special = { t:{x:[241,405], y:[668,787]}, x:{x:[1134,1298], y:[668,787]} };
const row5 = { y:{x:[463,624]}, z:{x:[687,847]} };
const blackFrame = { t:true, x:true };

// ---------------- HELPERS ----------------
function quarterly(start, end, vals){
  const n = vals.length;
  return vals.map((v,i)=>({x: start + i*(end-start)/(n-1), y: v}));
}
function fromPairs(p){ return p.map(([x,y])=>({x, y})); }

const seriesFor = {
  a: quarterly(1980,2010,argentina), b: quarterly(1980,2010,brazil),
  c: fromPairs(bulgaria), d: fromPairs(chile), e: fromPairs(colombia), f: fromPairs(czech),
  g: fromPairs(egypt), h: fromPairs(hungary), i: fromPairs(india), j: fromPairs(indonesia),
  k: fromPairs(israel), l: fromPairs(malaysia), m: fromPairs(mexico), n: fromPairs(morocco),
  o: fromPairs(peru), p: fromPairs(philippines), q: fromPairs(poland), r: fromPairs(portugal),
  s: fromPairs(romania), t: fromPairs(singapore), u: fromPairs(slovenia), v: fromPairs(southAfrica),
  w: fromPairs(southKorea), x: fromPairs(taiwan), y: fromPairs(thailand), z: fromPairs(turkey)
};

const bandPlugin = {
  id: 'bands',
  beforeDatasetsDraw(chart, args, opts){
    const {ctx, chartArea:a, scales:{x}} = chart;
    ctx.save();
    ctx.beginPath(); ctx.rect(a.left, a.top, a.right-a.left, a.bottom-a.top); ctx.clip();
    ctx.fillStyle = '#cccccc';
    (opts.list||[]).forEach(([b0,b1])=>{
      const p0 = x.getPixelForValue(b0), p1 = x.getPixelForValue(b1);
      ctx.fillRect(p0, a.top, p1-p0, a.bottom-a.top);
    });
    ctx.restore();
  }
};
const framePlugin = {
  id: 'frame',
  afterDatasetsDraw(chart, args, opts){
    const {ctx, chartArea:a, scales:{x, y}} = chart;
    ctx.save();
    ctx.strokeStyle = opts.color; ctx.lineWidth = opts.width;
    const L = Math.round(a.left)+0.5, R = Math.round(a.right)-0.5, T = Math.round(a.top)+0.5, B = Math.round(a.bottom)-0.5;
    ctx.strokeRect(L, T, R-L, B-T);
    ctx.beginPath();
    y.ticks.forEach(t=>{ const py = Math.round(y.getPixelForValue(t.value))+0.5; ctx.moveTo(L,py); ctx.lineTo(L+3,py); ctx.moveTo(R,py); ctx.lineTo(R-3,py); });
    x.ticks.forEach(t=>{ const px = Math.round(x.getPixelForValue(t.value))+0.5; ctx.moveTo(px,B); ctx.lineTo(px,B-3); ctx.moveTo(px,T); ctx.lineTo(px,T+3); });
    ctx.stroke();
    ctx.restore();
  }
};

const YW = 30, PT = 8, PR = 16, XH = 18;
const tickFont = {family:"'Liberation Sans', Arial, sans-serif", size:10};
const plainLabel = v => String(v);

letters.forEach((k, idx)=>{
  let xr, yr, capRow, capCx;
  if (idx < 24){
    const col = idx % 6, row = Math.floor(idx/6);
    xr = colX[col]; yr = rowY[row]; capRow = row;
    capCx = (colX[col][0]+colX[col][1])/2 - 3;
    if (special[k]){ xr = special[k].x; yr = special[k].y; }
  } else {
    xr = row5[k].x; yr = [885,1000]; capRow = 4;
    capCx = (xr[0]+xr[1])/2 - 3;
  }
  const w = xr[1]-xr[0], h = yr[1]-yr[0];
  const cv = document.createElement('canvas');
  cv.width = YW + w + PR; cv.height = PT + h + XH;
  cv.style.left = (xr[0]-YW)+'px'; cv.style.top = (yr[0]-PT)+'px';
  cv.style.width = cv.width+'px'; cv.style.height = cv.height+'px';
  document.body.appendChild(cv);
  const black = !!blackFrame[k];
  new Chart(cv, {
    type:'line',
    data:{ datasets:[{ data: seriesFor[k], borderColor:'#0000ff', borderWidth:1, pointRadius:0, tension:0, fill:false }] },
    options:{
      responsive:false, animation:false, devicePixelRatio:1, parsing:false,
      layout:{ padding:{ top:PT, right:PR, left:0, bottom:0 } },
      plugins:{ legend:{display:false}, tooltip:{enabled:false}, bands:{ list: bands[k] }, frame:{ color: black ? '#000000' : '#c4c4c4', width: black ? 1.5 : 1 } },
      scales:{
        x:{ type:'linear', min:1980, max:2010,
            afterBuildTicks: s=>{ s.ticks = xTicks.map(v=>({value:v})); },
            afterFit: s=>{ s.height = XH; },
            grid:{display:false, drawTicks:false}, border:{display:false},
            ticks:{ font:tickFont, color:'#1a1a1a', padding:3, maxRotation:0, autoSkip:false, callback: plainLabel } },
        y:{ type:'linear', min:0, max:yMax[k],
            afterBuildTicks: s=>{ s.ticks = yTicks[k].map(v=>({value:v})); },
            afterFit: s=>{ s.width = YW; },
            grid:{display:false, drawTicks:false}, border:{display:false},
            ticks:{ font:tickFont, color:'#1a1a1a', padding:3, autoSkip:false, callback: plainLabel } }
      }
    },
    plugins:[bandPlugin, framePlugin]
  });

  // caption
  const cap = document.createElement('div');
  cap.className = 'cap';
  cap.style.top = capTop[capRow]+'px';
  cap.style.left = (capCx-105)+'px';
  if (k === 'f'){
    cap.innerHTML = '<div class="row"><span>(f)</span><span>Czech</span><span>Repub-</span></div><div class="l2">lic</div>';
  } else {
    cap.innerHTML = '<span>('+k+')</span><span class="g">'+countries[idx]+'</span>';
  }
  document.body.appendChild(cap);
});
</script>
</body></html>
